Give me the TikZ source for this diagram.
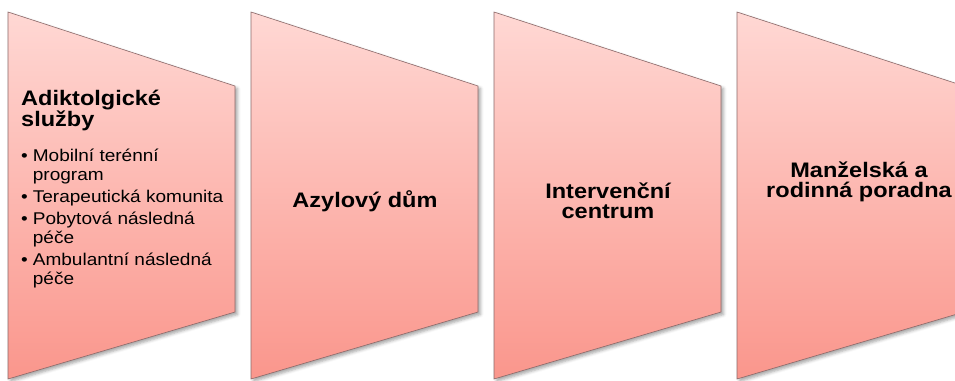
\documentclass[tikz,border=0pt]{standalone}
\usepackage{fontspec}
\setmainfont[FakeStretch=1.12]{Liberation Sans}
\usetikzlibrary{shadows.blur}

\begin{document}
\begin{tikzpicture}[x=1pt,y=-1pt]
  % Colors
  \definecolor{toppink}{RGB}{255,216,212}
  \definecolor{bottompink}{RGB}{250,150,140}
  \definecolor{edgegray}{RGB}{140,105,105}

  % Styles
  \tikzstyle{panel}=[draw=edgegray,line width=0.6pt,top color=toppink,bottom color=bottompink,
    blur shadow={shadow xshift=2.5pt,shadow yshift=-2.5pt,shadow blur radius=3pt,shadow opacity=35}]
  \tikzstyle{heading}=[inner sep=0pt,align=center,font=\bfseries\fontsize{21}{20}\selectfont]
  \tikzstyle{bullets}=[inner sep=0pt,anchor=base west,font=\fontsize{17}{19}\selectfont]

  \useasboundingbox (0,0) rectangle (955,380);
  \clip (0,0) rectangle (955,380);

  % The panels
  \foreach \x in {8,251,494,737}
    \path[panel] (\x,12) -- (\x+227,86) -- (\x+227,312) -- (\x,379) -- cycle;

  % The texts (base = last line)
  \node[heading,align=left,anchor=base west] (addict) at (21,126.7) {Adiktolgické\\služby};
  \node[bullets] (services) at (21,161) {%
    \begin{tabular}[t]{@{}l@{\hspace{5pt}}l@{}}
      \textbullet & Mobilní terénní\\
                  & program\\[3pt]
      \textbullet & Terapeutická komunita\\[3pt]
      \textbullet & Pobytová následná\\
                  & péče\\[3pt]
      \textbullet & Ambulantní následná\\
                  & péče
    \end{tabular}};
  \node[heading,anchor=base] (asylum) at (365,207) {Azylový dům};
  \node[heading,anchor=base] (crisis) at (608,218.5) {Intervenční\\centrum};
  \node[heading,anchor=base] (counsel) at (859,197) {Manželská a\\rodinná poradna};
\end{tikzpicture}
\end{document}
